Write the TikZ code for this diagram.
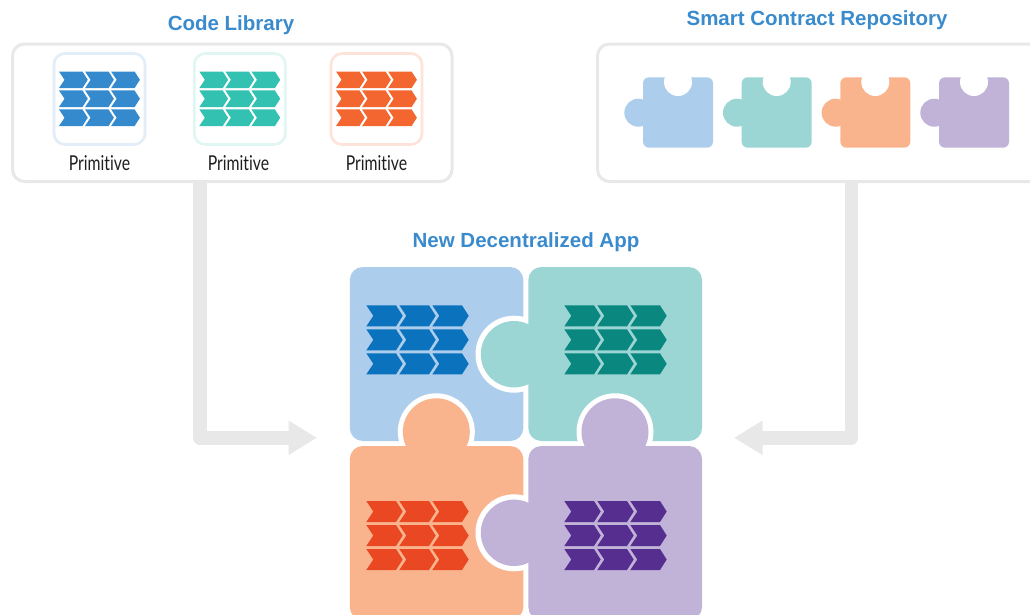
\documentclass[tikz,border=0pt]{standalone}
\usepackage{fontspec}
\setmainfont{Liberation Sans}
\newfontfamily\titlefont{Liberation Sans}
\newfontfamily\primfont[FakeStretch=0.77,Ligatures=NoCommon]{Lato}
\usetikzlibrary{arrows.meta}
\definecolor{pBlue}{HTML}{ADCDEC}
\definecolor{pTeal}{HTML}{9BD6D5}
\definecolor{pOrange}{HTML}{F9B48E}
\definecolor{pPurple}{HTML}{C1B3D7}
\definecolor{cBlue}{HTML}{358ACD}
\definecolor{cTeal}{HTML}{33C1B1}
\definecolor{cOrange}{HTML}{F4662F}
\definecolor{dBlue}{HTML}{0B72BD}
\definecolor{dTeal}{HTML}{0A877F}
\definecolor{dOrange}{HTML}{E94823}
\definecolor{dPurple}{HTML}{562E90}
\definecolor{frameGray}{HTML}{E8E8E8}
\definecolor{titleBlue}{HTML}{3A8BCD}
\tikzset{
  frame/.style={draw=frameGray,line width=3pt,rounded corners=12pt,fill=white,inner sep=0pt,minimum height=137.5pt},
  card/.style={line width=2.6pt,rounded corners=11pt,fill=white,inner sep=0pt,minimum width=91pt,minimum height=91pt},
  titletext/.style={font=\titlefont\bfseries\fontsize{20.5}{22}\selectfont,text=titleBlue,inner sep=0pt},
  primtext/.style={font=\primfont\fontsize{20.5}{22}\selectfont,text=black!88,inner sep=0pt},
  flow/.style={draw=frameGray,line width=13.4pt,line join=round,-{Triangle[length=28.5pt,width=32.4pt]}},
}
% chevron grid: x, y, scale, colour
\newcommand{\chevgrid}[4]{%
  \foreach \r in {0,1,2}{\foreach \c in {0,1,2}{%
    \fill[#4] ({#1+33*#3*\c},{#2+24*#3*\r}) -- ++({29.7*#3},0) -- ++({6.7*#3},{10.5*#3}) -- ++({-6.7*#3},{10.5*#3}) -- ++({-29.7*#3},0) -- ++({7*#3},{-10.5*#3}) -- cycle;
  }}}
% small puzzle piece: left x of body, colour
\newcommand{\smallpiece}[2]{%
  \fill[#2,rounded corners=6pt] (#1,77.3) rectangle ({#1+70},147.7);
  \fill[#2] ({#1-4.7},112.7) circle (14);
  \fill[white] ({#1+35},82) circle (14);
}
\begin{document}
\begin{tikzpicture}[x=1pt,y=-1pt]
\useasboundingbox (0,0) rectangle (1030,614);
\clip (0,0) rectangle (1030,614);
\fill[white] (0,0) rectangle (1030,614);

% frames
\node[frame,minimum width=439.5pt] (lib) at (232.25,112.75) {};
\node[frame,minimum width=460pt] (repo) at (827.5,112.75) {};

% connectors
\coordinate (libout) at (200,181.5);
\coordinate (repoout) at (851.7,181.5);
\coordinate (ltip) at (317,437.8);
\coordinate (rtip) at (734,437.8);
\draw[flow] (libout) |- (ltip);
\draw[flow] (repoout) |- (rtip);

% titles
\node[titletext] (t1) at (231,25.5) {Code Library};
\node[titletext] (t2) at (817,20.5) {Smart Contract Repository};
\node[titletext] (t3) at (526,242.5) {New Decentralized App};

% primitive cards
\node[card,draw=cBlue!15] (c1) at (99.5,99) {};
\node[card,draw=cTeal!15] (c2) at (239.8,99) {};
\node[card,draw=cOrange!18] (c3) at (376.5,99) {};
\chevgrid{59}{71.5}{0.79}{cBlue}
\chevgrid{199.3}{71.5}{0.79}{cTeal}
\chevgrid{336}{71.5}{0.79}{cOrange}
\node[primtext] (p1) at (99.5,163) {Primitive};
\node[primtext] (p2) at (238.5,163) {Primitive};
\node[primtext] (p3) at (376.5,163) {Primitive};

% repository pieces
\smallpiece{643}{pBlue}
\smallpiece{741.7}{pTeal}
\smallpiece{840.3}{pOrange}
\smallpiece{939}{pPurple}

% big puzzle
\fill[pBlue,rounded corners=13pt] (349.8,267) rectangle (523.3,441);
\fill[white] (514,354.2) circle (38.5);
\fill[pTeal,rounded corners=13pt] (528.3,267) rectangle (702,441);
\fill[pTeal] (514,354.2) circle (33.2);
\fill[white] (436.3,431.8) circle (38.5);
\fill[white] (615,431.8) circle (38.5);
\fill[pOrange] (436.3,431.8) circle (33.5);
\fill[pPurple] (615,431.8) circle (33.5);
\fill[pOrange,rounded corners=13pt] (349.8,446) rectangle (523.3,620);
\fill[white] (514,532.8) circle (38.5);
\fill[pPurple,rounded corners=13pt] (528.3,446) rectangle (702,620);
\fill[pPurple] (514,532.8) circle (33.2);

\chevgrid{366.3}{305.3}{1}{dBlue}
\chevgrid{564.3}{305.3}{1}{dTeal}
\chevgrid{366.3}{501}{1}{dOrange}
\chevgrid{564.3}{501}{1}{dPurple}
\end{tikzpicture}
\end{document}
